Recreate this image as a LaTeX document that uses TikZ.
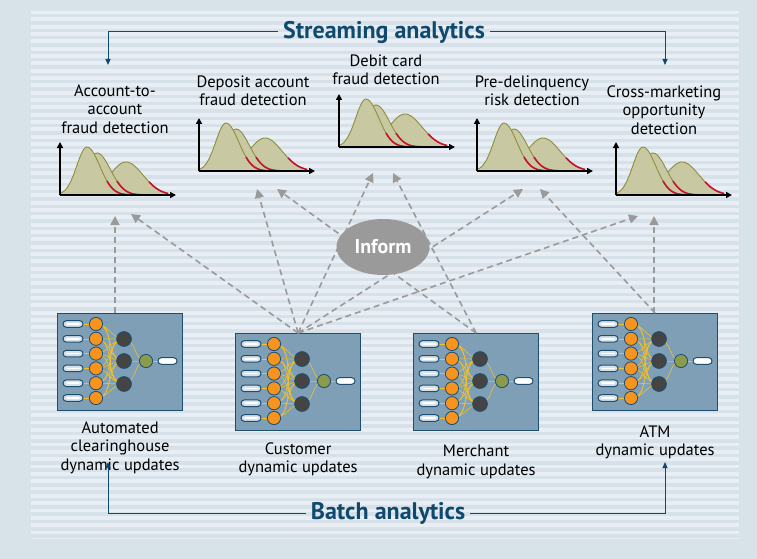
\documentclass[tikz,border=0pt]{standalone}
\usepackage{fontspec}
\setmainfont{PT Sans}
\usetikzlibrary{positioning,arrows.meta,shapes.geometric}

\definecolor{titleblue}{HTML}{0F4A6E}
\definecolor{outerbg}{HTML}{D8E2E9}
\definecolor{lightrow}{HTML}{E8EEF3}
\definecolor{darkrow}{HTML}{D6E1E9}
\definecolor{boxfill}{HTML}{7F9FB7}
\definecolor{boxline}{HTML}{1D4E70}
\definecolor{neuron}{HTML}{F7941D}
\definecolor{hidden}{HTML}{444444}
\definecolor{outnode}{HTML}{8C9A4C}
\definecolor{wirecol}{HTML}{F3C026}
\definecolor{humpfill}{HTML}{C8C9A2}
\definecolor{humpline}{HTML}{8E8E3C}
\definecolor{tailred}{HTML}{C8102E}
\definecolor{informgray}{HTML}{9A9A9A}

% one small density chart, origin at (#1,#2)
\newcommand{\riskchart}[2]{%
\begin{scope}[shift={(#1,#2)},yscale=-1,samples=30]
\filldraw[hump] (18,0) -- plot[domain=18:66] (\x,{33*exp(-((\x-66)/23)^2)})
  -- plot[domain=66:108] (\x,{33*exp(-((\x-66)/24)^2)}) -- (108,0) -- cycle;
\filldraw[hump] (4,0) -- plot[domain=4:37] (\x,{42*exp(-((\x-37)/15)^2)})
  -- plot[domain=37:100] (\x,{42*exp(-((\x-37)/19)^2)}) -- cycle;
\filldraw[hump] (0,0) -- plot[domain=0:27] (\x,{48*exp(-((\x-27)/14.5)^2)})
  -- plot[domain=27:95] (\x,{48*exp(-((\x-27)/18)^2)}) -- cycle;
\draw[tail] plot[domain=47:88] (\x,{48*exp(-((\x-27)/18)^2)});
\draw[tail] plot[domain=57:97] (\x,{42*exp(-((\x-37)/19)^2)});
\draw[tail] plot[domain=89:108] (\x,{33*exp(-((\x-66)/24)^2)});
\draw[axis] (0,0) -- (0,53);
\draw[axis] (0,0) -- (116,0);
\end{scope}}

% one network panel, named #1, top left corner at (#2,#3)
\newcommand{\netpanel}[3]{%
\node[netbox] (#1) at (#2,#3) {};
\begin{scope}[shift={(#2,#3)}]
\foreach \i in {0,...,5}
  \foreach \j in {26,48,71}
    \draw[wire] (39,{11+14.8*\i}) to[out=0,in=180] (67,\j);
\foreach \j in {26,48,71}
  \draw[wire] (67,\j) to[out=0,in=180] (89,48);
\draw[wire] (89,48) -- (101,48);
\foreach \i in {0,...,5}
{\pgfmathsetmacro\yy{11+14.8*\i}
 \draw[wire] (26,\yy) -- (39,\yy);
 \draw[pill] (6,\yy-3.3) rectangle (26,\yy+3.3);
 \draw[white,line width=1.5pt,line cap=round] (10,\yy) -- (22,\yy);
 \draw[unit,fill=neuron] (39,\yy) circle (6.6);
}
\foreach \j in {26,48,71}
  \draw[unit,fill=hidden] (67,\j) circle (7.4);
\draw[unit,fill=outnode] (89,48) circle (6.6);
\draw[pill,fill=white] (101,44.7) rectangle (120,51.3);
\end{scope}}

\begin{document}
\begin{tikzpicture}[x=1pt,y=-1pt,
hump/.style={fill=humpfill,draw=humpline,line width=0.9pt},
tail/.style={draw=tailred,line width=1.6pt},
axis/.style={line width=2pt,-{Triangle[length=6pt,width=6pt]}},
netbox/.style={draw=boxline,fill=boxfill,line width=1.2pt,anchor=north west,
  minimum width=125pt,minimum height=97pt,inner sep=0pt},
wire/.style={draw=wirecol,line width=0.6pt},
pill/.style={draw=boxline,fill=darkrow,line width=1pt,rounded corners=3.3pt},
unit/.style={draw=boxline,line width=0.8pt},
label/.style={align=center,inner sep=0pt,font=\fontsize{16.5}{18.5}\selectfont},
title/.style={text=titleblue,font=\fontsize{24}{28}\selectfont\bfseries,inner sep=5pt},
flow/.style={draw=titleblue,line width=1pt,-{Triangle[length=6pt,width=5pt]}},
inform/.style={draw=informgray,line width=1.6pt,dash pattern=on 6pt off 4pt,
  -{Triangle[length=9pt,width=9pt]}}]
\useasboundingbox (0,0) rectangle (757,559);
\fill[outerbg] (0,0) rectangle (757,559);
\fill[lightrow] (31,11) rectangle (739,539);
\foreach \k in {0,...,71}
  \fill[darkrow] (31,{14+7.33*\k}) rectangle (739,{17.4+7.33*\k});

% streaming side
\riskchart{60}{195}
\riskchart{199}{171}
\riskchart{339}{147}
\riskchart{477}{171}
\riskchart{616}{195}
\node[label] (l1) at (115,109) {Account-to-\\account\\fraud detection};
\node[label] (l2) at (253,91) {Deposit account\\fraud detection};
\node[label] (l3) at (386,70) {Debit card\\fraud detection};
\node[label] (l4) at (532,91) {Pre-delinquency\\risk detection};
\node[label] (l5) at (664,110) {Cross-marketing\\opportunity\\detection};

% batch side
\netpanel{ach}{57}{313}
\netpanel{cust}{235}{333}
\netpanel{merch}{413}{333}
\netpanel{atm}{592}{313}
\node[label,below=10pt of ach] (lach) {Automated\\clearinghouse\\dynamic updates};
\node[label,below=11pt of cust] (lcust) {Customer\\dynamic updates};
\node[label,below=14pt of merch] (lmerch) {Merchant\\dynamic updates};
\node[label,below=14pt of atm] (latm) {ATM\\dynamic updates};

% arrow tips under the charts
\coordinate (t1a) at (115,216);
\coordinate (t1b) at (131,214);
\coordinate (t2a) at (257,189);
\coordinate (t2b) at (277,189);
\coordinate (t3a) at (373,173);
\coordinate (t3b) at (393,173);
\coordinate (t4a) at (523,189);
\coordinate (t4b) at (540,189);
\coordinate (t5a) at (638,216);
\coordinate (t5b) at (654,216);

\draw[inform] (t1a |- ach.north) -- (t1a);
\foreach \T in {t1b,t2a,t3a,t4a,t5a}
  \draw[inform] (cust.north) -- (\T);
\foreach \T in {t2b,t3b}
  \draw[inform] (merch.north) -- (\T);
\draw[inform] (atm.north) -- (t4b);
\draw[inform] (t5b |- atm.north) -- (t5b);

\node[ellipse,fill=informgray,minimum width=93pt,minimum height=56pt,inner sep=0pt,
  text=white,font=\fontsize{20}{24}\selectfont\bfseries] (inf) at (383,247) {Inform};

% titles with their brackets
\node[title] (stream) at (384,32) {Streaming analytics};
\coordinate (sl) at (108,65);
\coordinate (sr) at (665,65);
\draw[flow] (stream.west) -| (sl);
\draw[flow] (stream.east) -| (sr);

\node[title] (batch) at (388,513) {Batch analytics};
\coordinate (bl) at (108,462);
\coordinate (br) at (665,462);
\draw[flow] (batch.west) -| (bl);
\draw[flow] (batch.east) -| (br);
\end{tikzpicture}
\end{document}
